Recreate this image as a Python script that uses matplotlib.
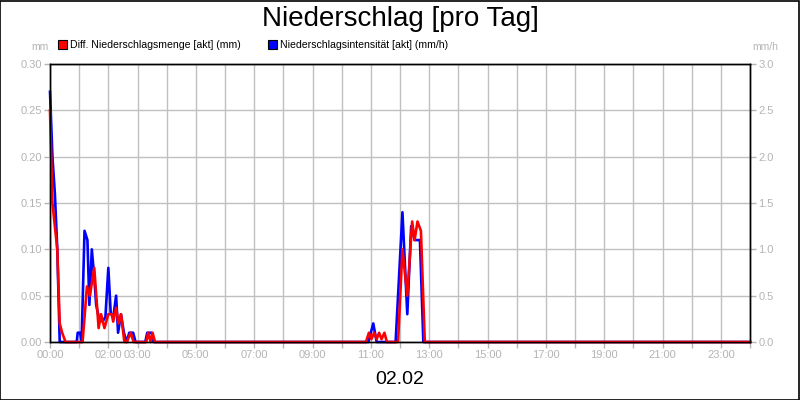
import numpy as np
import matplotlib
matplotlib.use('Agg')
import matplotlib.pyplot as plt
from matplotlib.patches import Rectangle

plt.rcParams['font.family'] = ['Liberation Sans', 'DejaVu Sans']

# Diff. Niederschlagsmenge [akt] (mm), time in minutes since 00:00
red_min = [0, 5, 10, 15, 20, 25, 32, 67, 76, 82, 91, 100, 105, 112, 120, 127, 130, 136, 141, 146,
           153, 158, 166, 172, 198, 202, 207, 211, 216, 650, 656, 661, 667, 672, 677, 682, 688, 693,
           716, 725, 735, 745, 750, 756, 763, 771, 1440]
red_mm = [0.25, 0.15, 0.125, 0.10, 0.02, 0.01, 0.0, 0.0, 0.06, 0.05, 0.08, 0.015, 0.03, 0.015, 0.03, 0.03, 0.022, 0.037, 0.02, 0.03,
          0.0, 0.0, 0.01, 0.0, 0.0, 0.01, 0.0, 0.01, 0.0, 0.0, 0.01, 0.003, 0.01, 0.003, 0.01, 0.003, 0.01, 0.0,
          0.0, 0.10, 0.05, 0.13, 0.11, 0.13, 0.12, 0.0, 0.0]

# Niederschlagsintensitaet [akt] (mm/h)
blue_min = [0, 5, 10, 15, 20, 55, 57, 62, 65, 71, 77, 81, 86, 91, 95, 101, 108, 114, 120, 125, 131,
            136, 140, 146, 152, 158, 163, 171, 176, 196, 200, 209, 213, 655, 665, 672,
            711, 725, 735, 743, 750, 761, 768, 1440]
blue_mmh = [2.7, 2.0, 1.6, 1.0, 0.0, 0.0, 0.1, 0.1, 0.0, 1.2, 1.1, 0.4, 1.0, 0.7, 0.4, 0.25, 0.22, 0.27, 0.8, 0.3, 0.3,
            0.5, 0.1, 0.3, 0.1, 0.0, 0.1, 0.1, 0.0, 0.0, 0.1, 0.1, 0.0, 0.0, 0.2, 0.0,
            0.0, 1.4, 0.3, 1.25, 1.1, 1.1, 0.0, 0.0]

hours = list(range(25))
hour_labels = ['00:00', '', '02:00', '03:00', '', '05:00', '', '07:00', '', '09:00', '', '11:00', '',
               '13:00', '', '15:00', '', '17:00', '', '19:00', '', '21:00', '', '23:00', '']

grey = '#b4b4b4'

fig = plt.figure(figsize=(8, 4), dpi=100)
fig.patch.set_facecolor('white')
fig.patches.append(Rectangle((0.0005, 0.001), 0.998, 0.997, transform=fig.transFigure,
                             fill=False, edgecolor='black', linewidth=1.2))

ax2 = fig.add_axes([0.0625, 0.145, 0.875, 0.695])
ax = ax2.twinx()
ax.yaxis.tick_left()
ax.yaxis.set_label_position('left')
ax2.yaxis.tick_right()
ax.set_zorder(ax2.get_zorder() + 1)
ax.patch.set_visible(False)

ax2.plot(blue_min, blue_mmh, color='#0000ff', lw=1.9, clip_on=False, solid_joinstyle='round')
ax.plot(red_min, red_mm, color='#ff0000', lw=1.9, clip_on=False, solid_joinstyle='round')

ax.set_xlim(0, 1440)
ax.set_ylim(0, 0.30)
ax2.set_ylim(0, 3.0)
ax.set_yticks(np.arange(0, 0.301, 0.05))
ax.set_yticklabels(['%.2f' % v for v in np.arange(0, 0.301, 0.05)])
ax2.set_yticks(np.arange(0, 3.01, 0.5))
ax2.set_yticklabels(['%.1f' % v for v in np.arange(0, 3.01, 0.5)])
ax2.set_xticks([h * 60 for h in hours])
ax2.set_xticklabels(hour_labels)

ax2.grid(True, color='#c0c0c0', lw=1)
ax2.set_axisbelow(True)

for a in (ax, ax2):
    a.tick_params(axis='both', colors=grey, labelcolor=grey, labelsize=8, length=4, width=1, pad=2)
    for s in a.spines.values():
        s.set_color('black')
        s.set_linewidth(1)

fig.text(0.5, 0.953, 'Niederschlag [pro Tag]', ha='center', va='center', fontsize=20)
fig.text(0.5, 0.05, '02.02', ha='center', va='center', fontsize=14)
fig.text(0.05, 0.882, 'mm', ha='center', va='center', fontsize=7.5, color=grey)
fig.text(0.956, 0.882, 'mm/h', ha='center', va='center', fontsize=7.5, color=grey)

# legend
fig.patches.append(Rectangle((58 / 800, 1 - 49 / 400), 9 / 800, 9 / 400, transform=fig.transFigure,
                             facecolor='#ff0000', edgecolor='black', linewidth=0.8))
fig.text(70 / 800, 1 - 45 / 400, 'Diff. Niederschlagsmenge [akt] (mm)', ha='left', va='center', fontsize=7.6)
fig.patches.append(Rectangle((268 / 800, 1 - 49 / 400), 9 / 800, 9 / 400, transform=fig.transFigure,
                             facecolor='#0000ff', edgecolor='black', linewidth=0.8))
fig.text(280 / 800, 1 - 45 / 400, 'Niederschlagsintensität [akt] (mm/h)', ha='left', va='center', fontsize=7.6)

fig.savefig('out.png', dpi=100)
